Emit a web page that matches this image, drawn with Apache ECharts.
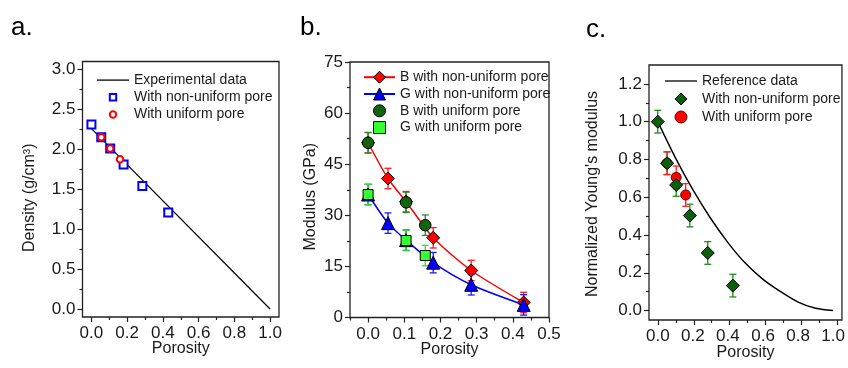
<!DOCTYPE html>
<html><head><meta charset="utf-8">
<script src="https://cdn.jsdelivr.net/npm/echarts@6/dist/echarts.min.js"></script>
<style>html,body{margin:0;padding:0;background:#fff}#c{width:848px;height:368px}</style>
</head><body><div id="c"></div>
<script>
// ---------- Panel a: density ----------
const porosityNonUniformA = [0, 0.055, 0.105, 0.18, 0.285, 0.43];
const densityNonUniform = [2.31, 2.15, 2.01, 1.81, 1.54, 1.21];
const porosityUniformA = [0.055, 0.105, 0.16];
const densityUniform = [2.15, 2.01, 1.875];
const expPorosity = [0, 1.0];
const expDensity = [2.26, 0];
// ---------- Panel b: modulus ----------
const porosityB = [0, 0.055, 0.105, 0.18, 0.285, 0.43];
const bNonUniform = [51.3, 40.8, 34.0, 23.4, 13.8, 4.4];
const bNonUniformErr = [3, 3, 3, 3, 3, 3];
const gNonUniform = [36.1, 27.7, 22.7, 16.1, 9.6, 3.7];
const gNonUniformErr = [3, 3, 3, 3, 3, 3];
const porosityUniformB = [0, 0.105, 0.158];
const bUniform = [51.3, 33.8, 27.1];
const bUniformErr = [3, 3, 3];
const gUniform = [36.1, 22.6, 18.2];
const gUniformErr = [3, 3, 3];
// ---------- Panel c: normalized Young's modulus ----------
const refPorosity = [0, 0.1, 0.2, 0.3, 0.4, 0.5, 0.6, 0.7, 0.8, 0.9, 1.0];
const refModulus = [1.0, 0.81, 0.64, 0.49, 0.36, 0.25, 0.165, 0.1, 0.045, 0.012, 0.0];
const porosityNonUniformC = [0, 0.053, 0.105, 0.183, 0.285, 0.428];
const eNonUniform = [1.0, 0.78, 0.665, 0.503, 0.305, 0.132];
const eNonUniformErr = [0.06, 0.06, 0.06, 0.06, 0.06, 0.06];
const porosityUniformC = [0.053, 0.105, 0.159];
const eUniform = [0.78, 0.705, 0.612];
const eUniformErr = [0.06, 0.06, 0.06];
// ---------- ticks ----------
const xTicksA = [0, 0.2, 0.4, 0.6, 0.8, 1.0];
const xMinorA = [0.1, 0.3, 0.5, 0.7, 0.9];
const yTicksA = [0, 0.5, 1.0, 1.5, 2.0, 2.5, 3.0];
const yMinorA = [0.25, 0.75, 1.25, 1.75, 2.25, 2.75];
const xTicksB = [0, 0.1, 0.2, 0.3, 0.4, 0.5];
const xMinorB = [-0.05, 0.05, 0.15, 0.25, 0.35, 0.45];
const yTicksB = [0, 15, 30, 45, 60, 75];
const yMinorB = [7.5, 22.5, 37.5, 52.5, 67.5];
const xTicksC = [0, 0.2, 0.4, 0.6, 0.8, 1.0];
const xMinorC = [0.1, 0.3, 0.5, 0.7, 0.9];
const yTicksC = [0, 0.2, 0.4, 0.6, 0.8, 1.0, 1.2];
const yMinorC = [0.1, 0.3, 0.5, 0.7, 0.9, 1.1];

const FONT = '"Liberation Sans", Arial, sans-serif';
const TXT = '#1a1a1a';
const pairs = (xs, ys) => xs.map((x, i) => [x, ys[i]]);
const f1 = v => v.toFixed(1);
const f0 = v => String(Math.round(v));

// panel rectangles (frame) for the three plots
const rects = [
  { left: 82.5, top: 61.5, width: 196.5, height: 255.5 },
  { left: 350, top: 62, width: 199, height: 255.5 },
  { left: 649, top: 65, width: 197, height: 255 }
];
const grids = [];
rects.forEach(r => grids.push(Object.assign({ show: true, borderColor: '#222', borderWidth: 1.3, backgroundColor: 'transparent' }, r)));
rects.forEach(r => grids.push(Object.assign({ show: false }, r)));   // major tick grids 3..5
rects.forEach(r => grids.push(Object.assign({ show: false }, r)));   // minor tick grids 6..8

const xa = [], ya = [];
function axisSet(arr, dim, panel, min, max, majors, minors, fmt, name, nameGap, namePad) {
  const pos = dim === 'x' ? 'bottom' : 'left';
  const base = { type: 'value', min: min, max: max, position: pos, splitLine: { show: false } };
  // labels + name
  arr.push(Object.assign({}, base, {
    gridIndex: panel, axisLine: { show: false, onZero: false }, axisTick: { show: false },
    axisLabel: { show: true, customValues: majors, formatter: fmt, margin: dim === 'x' ? 8 : 7,
      fontSize: 17, color: TXT, fontFamily: FONT },
    name: name, nameLocation: 'middle', nameGap: nameGap, nameMoveOverlap: false,
    nameTextStyle: { fontSize: 16, color: TXT, fontFamily: FONT, padding: namePad || 0 }
  }));
  // major ticks
  arr.push(Object.assign({}, base, {
    gridIndex: panel + 3, axisLine: { show: false, onZero: false },
    axisTick: { show: true, customValues: majors, length: 5, lineStyle: { color: '#222', width: 1.2 } },
    axisLabel: { show: false }
  }));
  // minor ticks
  arr.push(Object.assign({}, base, {
    gridIndex: panel + 6, axisLine: { show: false, onZero: false },
    axisTick: { show: true, customValues: minors, length: 3, lineStyle: { color: '#222', width: 1.2 } },
    axisLabel: { show: false }
  }));
}
// x axes: indices panel*3 (labels), +1 major, +2 minor
axisSet(xa, 'x', 0, -0.05, 1.05, xTicksA, xMinorA, f1, 'Porosity', 24);
axisSet(xa, 'x', 1, -0.05, 0.5, xTicksB, xMinorB, f1, 'Porosity', 24);
axisSet(xa, 'x', 2, -0.05, 1.05, xTicksC, xMinorC, f1, 'Porosity', 25);
axisSet(ya, 'y', 0, -0.1, 3.1, yTicksA, yMinorA, f1, 'Density (g/cm³)', 45, [0, 17, 0, 0]);
axisSet(ya, 'y', 1, 0, 75, yTicksB, yMinorB, f0, 'Modulus (GPa)', 31, [0, 14, 0, 0]);
axisSet(ya, 'y', 2, -0.05, 1.3, yTicksC, yMinorC, f1, "Normalized Young's modulus", 48, [0, 3, 0, 0]);
const AX = [0, 3, 6]; // label-axis index per panel (series bind to these)

function errSeries(p, xs, ys, es, color, z) {
  return {
    type: 'custom', xAxisIndex: AX[p], yAxisIndex: AX[p], z: z, silent: true,
    data: xs.map((x, i) => [x, ys[i], es[i]]),
    encode: { x: 0, y: 1 },
    renderItem: function (params, api) {
      const x = api.value(0), y = api.value(1), e = api.value(2);
      const hi = api.coord([x, y + e]), lo = api.coord([x, y - e]);
      const w = 3.5;
      const st = { stroke: color, lineWidth: 1.3 };
      return { type: 'group', children: [
        { type: 'line', shape: { x1: hi[0], y1: hi[1], x2: lo[0], y2: lo[1] }, style: st },
        { type: 'line', shape: { x1: hi[0] - w, y1: hi[1], x2: hi[0] + w, y2: hi[1] }, style: st },
        { type: 'line', shape: { x1: lo[0] - w, y1: lo[1], x2: lo[0] + w, y2: lo[1] }, style: st }
      ] };
    }
  };
}

function pts(name, p, data, symbol, size, color, border, z) {
  return {
    name: name, type: 'line', xAxisIndex: AX[p], yAxisIndex: AX[p], z: z,
    data: data, symbol: symbol, symbolSize: size, showSymbol: true, showAllSymbol: true,
    color: color,
    itemStyle: { color: color, borderColor: border || color, borderWidth: border ? 1 : 0, opacity: 1 },
    lineStyle: { width: 0, opacity: 0 }
  };
}

const LINEICON = 'path://M0,0H32V1.3H0Z';
const legendText = (lh) => ({ fontSize: 14, color: TXT, fontFamily: FONT, lineHeight: lh });

const option = {
  animation: false,
  backgroundColor: '#fff',
  textStyle: { fontFamily: FONT },
  graphic: [
    { type: 'text', left: 11, top: 15, style: { text: 'a.', fill: '#000', font: '26px ' + FONT } },
    { type: 'text', left: 300, top: 15, style: { text: 'b.', fill: '#000', font: '26px ' + FONT } },
    { type: 'text', left: 586, top: 17, style: { text: 'c.', fill: '#000', font: '26px ' + FONT } }
  ],
  grid: grids,
  xAxis: xa,
  yAxis: ya,
  legend: [
    { orient: 'vertical', left: 97, top: 71.5, padding: 0, itemGap: 0, itemWidth: 32, itemHeight: 8,
      selectedMode: false, textStyle: legendText(17.2),
      data: [{ name: 'Experimental data', icon: LINEICON }, 'With non-uniform pore', 'With uniform pore'] },
    { orient: 'vertical', left: 363, top: 68.8, padding: 0, itemGap: 0, itemWidth: 31, itemHeight: 15,
      selectedMode: false, textStyle: legendText(16.8), itemStyle: { borderWidth: 1 },
      data: ['B with non-uniform pore', 'G with non-uniform pore', 'B with uniform pore', 'G with uniform pore'] },
    { orient: 'vertical', left: 665, top: 72, padding: 0, itemGap: 0, itemWidth: 32, itemHeight: 15,
      selectedMode: false, textStyle: legendText(18), itemStyle: { borderWidth: 1 },
      data: [{ name: 'Reference data', icon: LINEICON }, 'With non-uniform pore ', 'With uniform pore '] }
  ],
  series: [
    // panel a
    { name: 'Experimental data', type: 'line', xAxisIndex: AX[0], yAxisIndex: AX[0], z: 2,
      data: pairs(expPorosity, expDensity), symbol: 'none', color: '#000',
      lineStyle: { color: '#000', width: 1.2 } },
    { name: 'With non-uniform pore', type: 'line', xAxisIndex: AX[0], yAxisIndex: AX[0], z: 3,
      data: pairs(porosityNonUniformA, densityNonUniform), symbol: 'emptyRect', symbolSize: 8,
      color: '#0000ff', itemStyle: { color: '#0000ff', borderWidth: 2 }, lineStyle: { width: 0, opacity: 0 } },
    { name: 'With uniform pore', type: 'line', xAxisIndex: AX[0], yAxisIndex: AX[0], z: 4,
      data: pairs(porosityUniformA, densityUniform), symbol: 'emptyCircle', symbolSize: 6.5,
      color: '#ff0000', itemStyle: { color: '#ff0000', borderWidth: 2 }, lineStyle: { width: 0, opacity: 0 } },
    // panel b
    errSeries(1, porosityB, bNonUniform, bNonUniformErr, '#ff1a1a', 2),
    errSeries(1, porosityB, gNonUniform, gNonUniformErr, '#1a1aff', 2),
    errSeries(1, porosityUniformB, bUniform, bUniformErr, '#2a8a2a', 2),
    errSeries(1, porosityUniformB, gUniform, gUniformErr, '#33dd33', 2),
    { name: 'B with non-uniform pore', type: 'line', xAxisIndex: AX[1], yAxisIndex: AX[1], z: 3,
      data: pairs(porosityB, bNonUniform), smooth: 0.25, symbol: 'diamond', symbolSize: 13,
      color: '#ff0000', itemStyle: { color: '#ff0000', borderColor: '#000', borderWidth: 1 },
      lineStyle: { color: '#ff0000', width: 1.5 } },
    { name: 'G with non-uniform pore', type: 'line', xAxisIndex: AX[1], yAxisIndex: AX[1], z: 4,
      data: pairs(porosityB, gNonUniform), smooth: 0.25, symbol: 'triangle', symbolSize: 13,
      color: '#0000ff', itemStyle: { color: '#0000ff', borderColor: '#000', borderWidth: 1 },
      lineStyle: { color: '#0000ff', width: 1.5 } },
    pts('B with uniform pore', 1, pairs(porosityUniformB, bUniform), 'circle', 11.5, '#0f640f', '#000', 5),
    pts('G with uniform pore', 1, pairs(porosityUniformB, gUniform), 'rect', 10, '#33ff33', '#000', 6),
    // panel c
    { name: 'Reference data', type: 'line', xAxisIndex: AX[2], yAxisIndex: AX[2], z: 2,
      data: pairs(refPorosity, refModulus), smooth: 0.3, symbol: 'none', color: '#000',
      lineStyle: { color: '#000', width: 1.4 } },
    errSeries(2, porosityNonUniformC, eNonUniform, eNonUniformErr, '#1f8a1f', 2),
    errSeries(2, porosityUniformC, eUniform, eUniformErr, '#ff2020', 2.5),
    pts('With uniform pore ', 2, pairs(porosityUniformC, eUniform), 'circle', 10, '#ff0000', '#600', 3),
    pts('With non-uniform pore ', 2, pairs(porosityNonUniformC, eNonUniform), 'diamond', 13, '#0b5e0b', '#000', 4)
  ]
};

const chart = echarts.init(document.getElementById('c'), null, { renderer: 'canvas' });
chart.setOption(option);
</script>
</body></html>
